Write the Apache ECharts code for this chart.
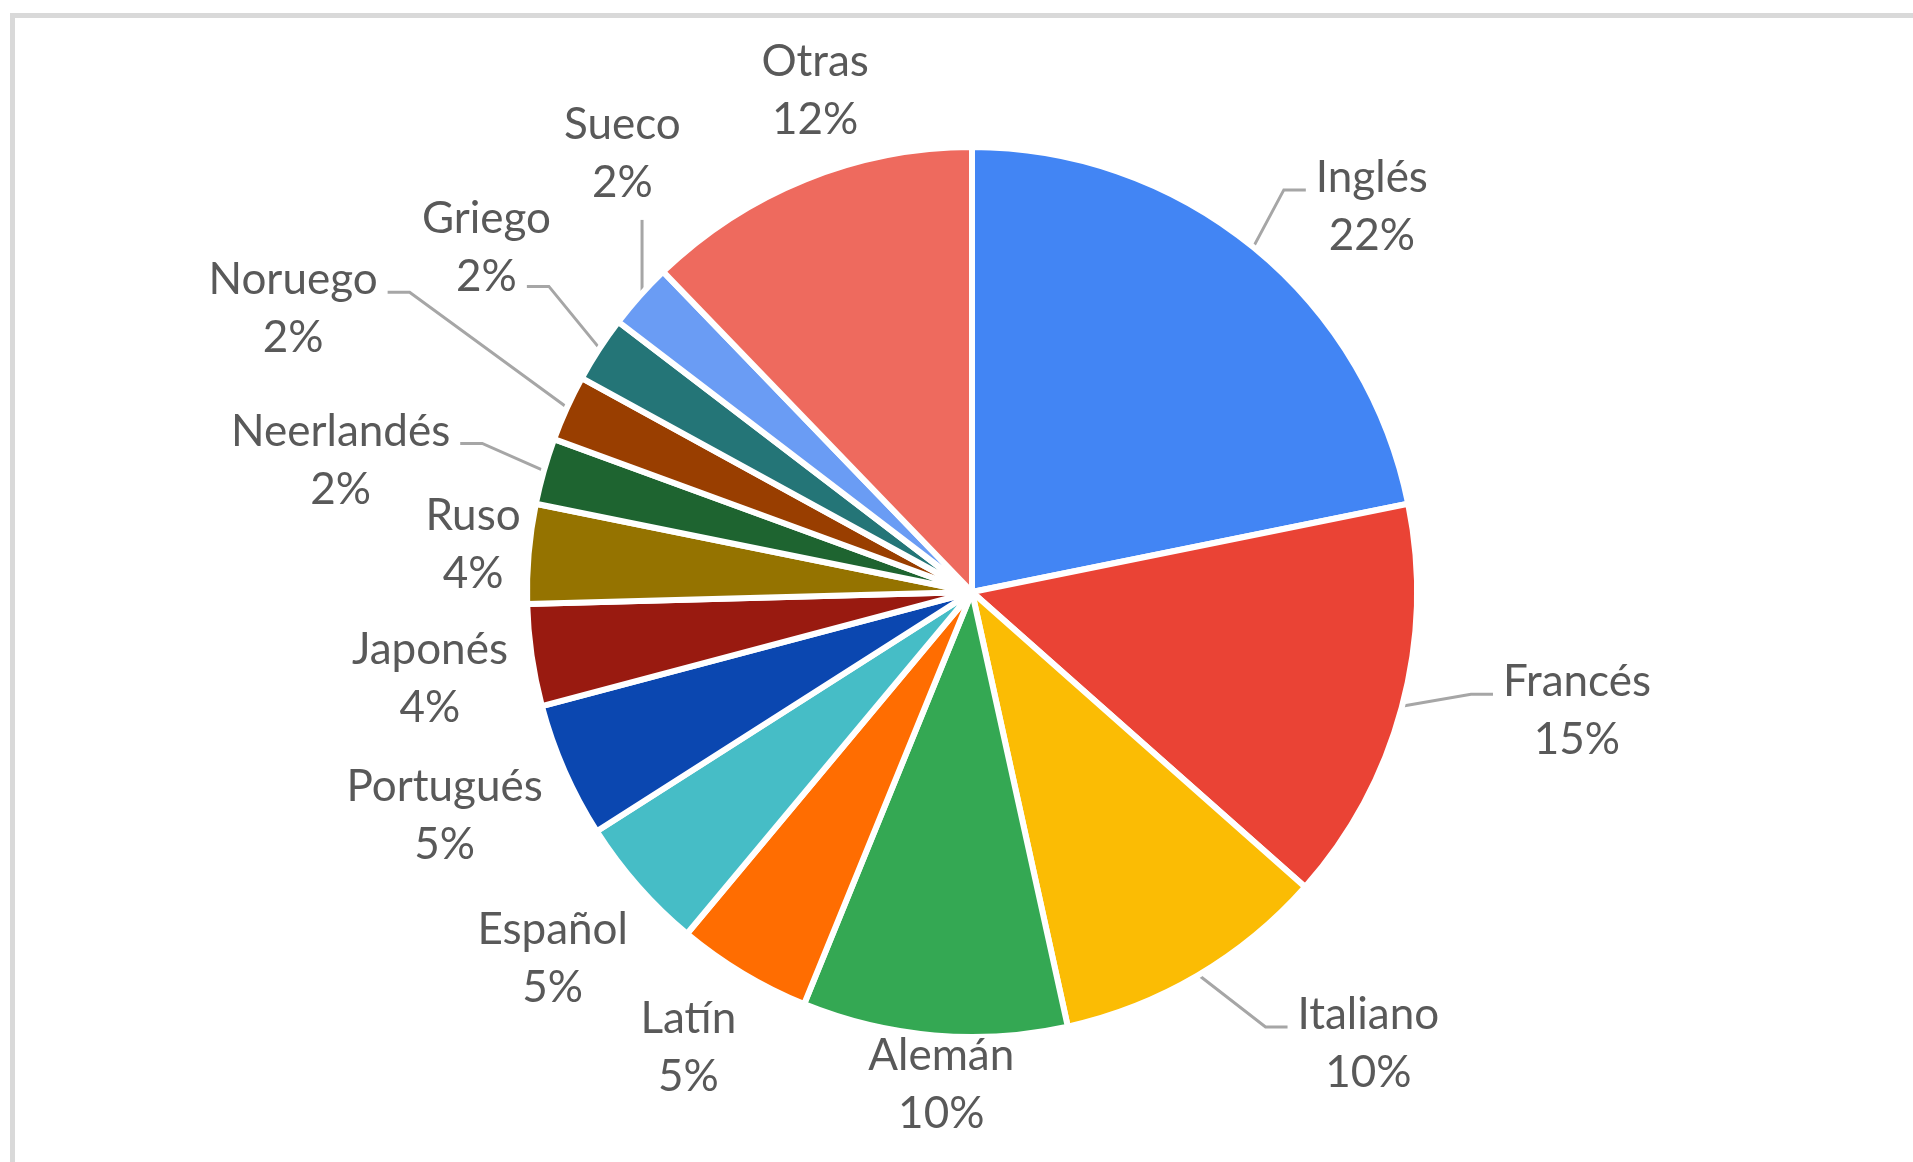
<!DOCTYPE html>
<html>
<head>
<meta charset="utf-8">
<title>Idiomas</title>
<script src="https://cdn.jsdelivr.net/npm/echarts@6/dist/echarts.min.js"></script>
<style>
  html, body { margin: 0; padding: 0; background: #fff; overflow: hidden; }
  #frame { position: absolute; left: 10px; top: 13px; width: 2000px; height: 1300px;
           border-left: 5px solid #d9d9d9; border-top: 5px solid #d9d9d9; box-sizing: border-box; }
  #chart { position: absolute; left: 0; top: 0; width: 1913px; height: 1162px; }
</style>
</head>
<body>
<div id="frame"></div>
<div id="chart"></div>
<script>
const languages = ['Inglés', 'Francés', 'Italiano', 'Alemán', 'Latín', 'Español', 'Portugués',
  'Japonés', 'Ruso', 'Neerlandés', 'Noruego', 'Griego', 'Sueco', 'Otras'];
const shares = [21.8, 14.7, 10.0, 9.6, 4.9, 4.9, 4.9, 3.7, 3.6, 2.4, 2.4, 2.4, 2.4, 12.2];
const sliceColors = ['#4285F4', '#EA4335', '#FBBC04', '#34A853', '#FF6D01', '#46BDC6', '#0B47B0',
  '#991A10', '#957300', '#1E6430', '#993E00', '#247577', '#6A9CF4', '#EE6A5E'];

// label placement: [angle shift from slice middle (deg), distance / radius,
//  leader (0 none, 1 side at first line, 2 below, 3 side at second line)]
const labelPlace = [
  [6.8, 1.256, 1], [-3.9, 1.395, 1], [-10.8, 1.360, 1], [-1.3, 1.118, 0], [0.9, 1.215, 0],
  [0.2, 1.260, 0], [0.7, 1.296, 0], [-0.9, 1.242, 0], [0.5, 1.134, 0], [-4.0, 1.459, 1],
  [-1.8, 1.664, 1], [2.3, 1.347, 3], [9.7, 1.268, 2], [4.6, 1.188, 0]
];

const cx = 972, cy = 592, R = 442;
const FONT = 'Lato', FONT_SIZE = 44, LINE_H = 58;
const total = shares.reduce((a, b) => a + b, 0);
const midAngles = [];
let acc = 0;
shares.forEach(v => {
  midAngles.push((acc + v / 2) / total * 360);
  acc += v;
});

const measureCtx = document.createElement('canvas').getContext('2d');
function textWidth(s) {
  measureCtx.font = FONT_SIZE + 'px ' + FONT;
  return measureCtx.measureText(s).width;
}

function polar(deg, dist) {
  const a = deg * Math.PI / 180;
  return [cx + dist * Math.sin(a), cy - dist * Math.cos(a)];
}

const chart = echarts.init(document.getElementById('chart'));

chart.setOption({
  animation: false,
  series: [{
    type: 'pie',
    center: [cx, cy],
    radius: R + 3,
    startAngle: 90,
    clockwise: true,
    avoidLabelOverlap: false,
    itemStyle: { borderColor: '#fff', borderWidth: 6 },
    label: {
      show: true,
      position: 'outside',
      fontFamily: FONT,
      fontSize: FONT_SIZE,
      lineHeight: LINE_H,
      color: '#595959',
      formatter: p => p.name + '\n' + Math.round(p.percent) + '%'
    },
    labelLine: { lineStyle: { color: '#a6a6a6', width: 3 } },
    emphasis: { disabled: true },
    labelLayout: function (params) {
      const i = params.dataIndex;
      const place = labelPlace[i];
      const pos = polar(midAngles[i] + place[0], place[1] * R);
      const res = { x: pos[0], y: pos[1], align: 'center', verticalAlign: 'middle' };
      const start = polar(midAngles[i], R);
      const h = params.labelRect.height;
      if (place[2] === 1 || place[2] === 3) {
        const lines = params.text.split('\n');
        const second = place[2] === 3;
        const w = second ? textWidth(lines[1]) : params.labelRect.width;
        const y = second ? pos[1] + LINE_H / 2 + 10 : pos[1] - 17;
        let end, elbow;
        if (pos[0] > cx) {
          end = [pos[0] - w / 2 - 10, y];
          elbow = [end[0] - 22, y];
        } else {
          end = [pos[0] + w / 2 + 10, y];
          elbow = [end[0] + 22, y];
        }
        res.labelLinePoints = [start, elbow, end];
      } else if (place[2] === 2) {
        const top = pos[1] + h / 2 + 8;
        res.labelLinePoints = [start, [start[0], (start[1] + top) / 2], [start[0], top]];
      }
      return res;
    },
    data: languages.map((name, i) => ({
      name: name,
      value: shares[i],
      itemStyle: { color: sliceColors[i] },
      labelLine: { show: labelPlace[i][2] > 0 }
    }))
  }]
});
</script>
</body>
</html>
